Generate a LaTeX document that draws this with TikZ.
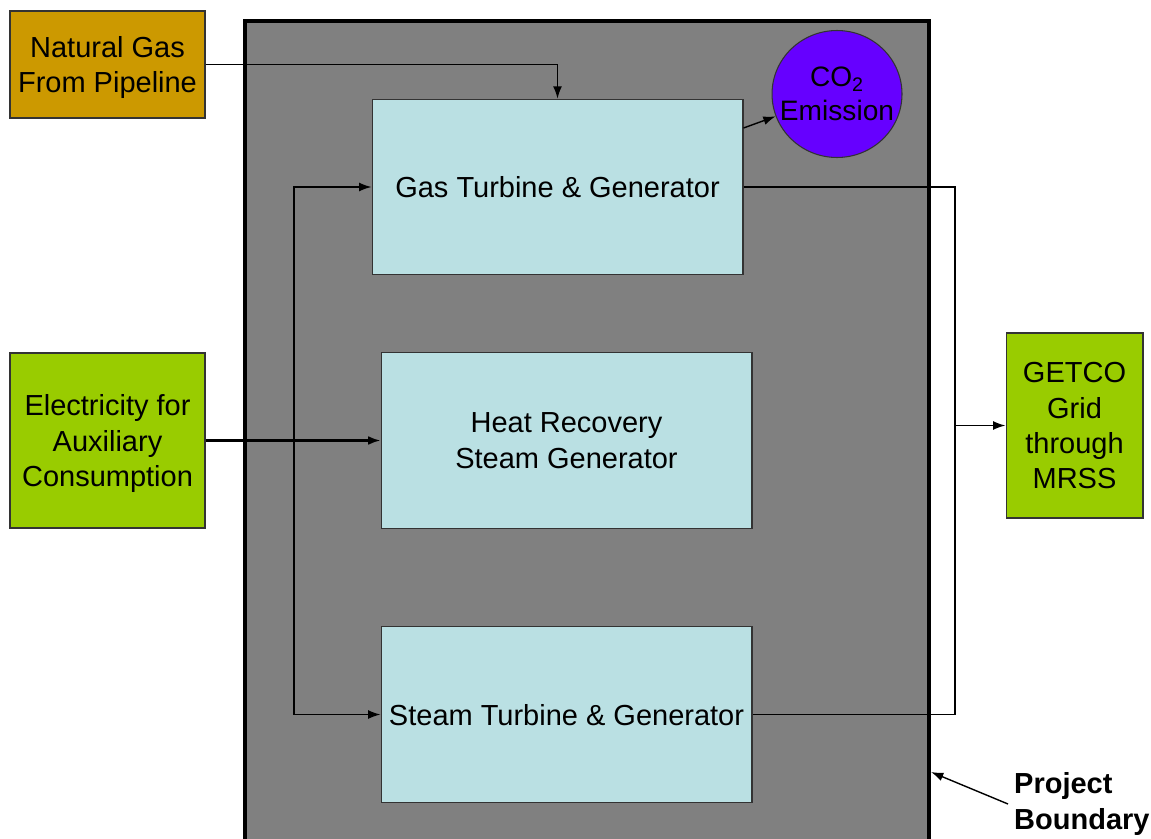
\documentclass[tikz,border=0pt]{standalone}
\usepackage{fontspec}
\setmainfont{Liberation Sans}
\usepackage{tikz}
\usetikzlibrary{shapes.geometric,arrows.meta}
\definecolor{boundgray}{HTML}{808080}
\definecolor{unitblue}{HTML}{BAE0E3}
\definecolor{gasgold}{HTML}{CC9900}
\definecolor{elecgreen}{HTML}{99CC00}
\definecolor{co2violet}{HTML}{6600FF}
\tikzset{
	unit/.style={draw=black!80, line width=0.6pt, fill=unitblue, minimum width=7.42cm, minimum height=3.51cm, inner sep=0pt, text depth=0pt, align=center, font=\fontsize{16.5}{20}\selectfont},
	source/.style={draw=black!80, line width=0.6pt, minimum width=3.9cm, inner sep=0pt, text depth=0pt, align=center, font=\fontsize{16.5}{20}\selectfont},
	flow/.style={line width=0.8pt, -{Latex[length=7pt,width=5pt]}},
	wire/.style={line width=0.8pt}
}

\begin{document}
\begin{tikzpicture}[x=0.02cm, y=-0.02cm]
		%%%%% START %%%%%
		\useasboundingbox (0, 0) rectangle (1151, 838);
		
		\draw[line width=2.3pt, fill=boundgray] (245, 21) rectangle (929, 870);
		
		\node[source, fill=gasgold, minimum height=2.14cm] (gas) at (107.5, 64.5) {Natural Gas\\From Pipeline};
		\node[source, fill=elecgreen, minimum height=3.5cm] (elec) at (107.5, 440.5) {Electricity for\\Auxiliary\\Consumption};
		\node[source, fill=elecgreen, minimum width=2.74cm, minimum height=3.7cm] (getco) at (1074.5, 425.5) {GETCO\\Grid\\through\\MRSS};
		
		\node[unit] (gt) at (557.5, 187) {Gas Turbine \& Generator};
		\node[unit] (hrsg) at (566.5, 440.5) {Heat Recovery\\Steam Generator};
		\node[unit] (st) at (566.5, 714.5) {Steam Turbine \& Generator};
		
		\node[ellipse, draw=black!80, line width=0.6pt, fill=co2violet, minimum width=2.6cm, minimum height=2.54cm, inner sep=0pt, align=center, font=\fontsize{16}{19}\selectfont] (co2) at (837, 94) {\makebox[0pt]{CO\textsubscript{2}}\\\makebox[0pt]{Emission}};
		
		\node[anchor=west, align=left, font=\fontsize{16.5}{20}\selectfont\bfseries] (pb) at (1008, 804) {Project\\Boundary};
		
		\coordinate (bus) at (294, 440.5);
		\coordinate (join) at (955, 425.5);
		\coordinate (edge) at (931, 772);
		
		\draw[flow] (gas.east) -| (gt.north);
		\draw[flow, line width=1.2pt] (elec.east) -- (hrsg.west);
		\draw[flow] (bus) |- (gt.west);
		\draw[flow] (bus) |- (st.west);
		\draw[flow] ([yshift=1.18cm]gt.east) -- (co2);
		\draw[wire] (gt.east) -| (join) |- (st.east);
		\draw[flow] (join) -- (getco.west);
		\draw[flow] (pb.west) -- (edge);
		%%%%% END %%%%%
\end{tikzpicture}
\end{document}
